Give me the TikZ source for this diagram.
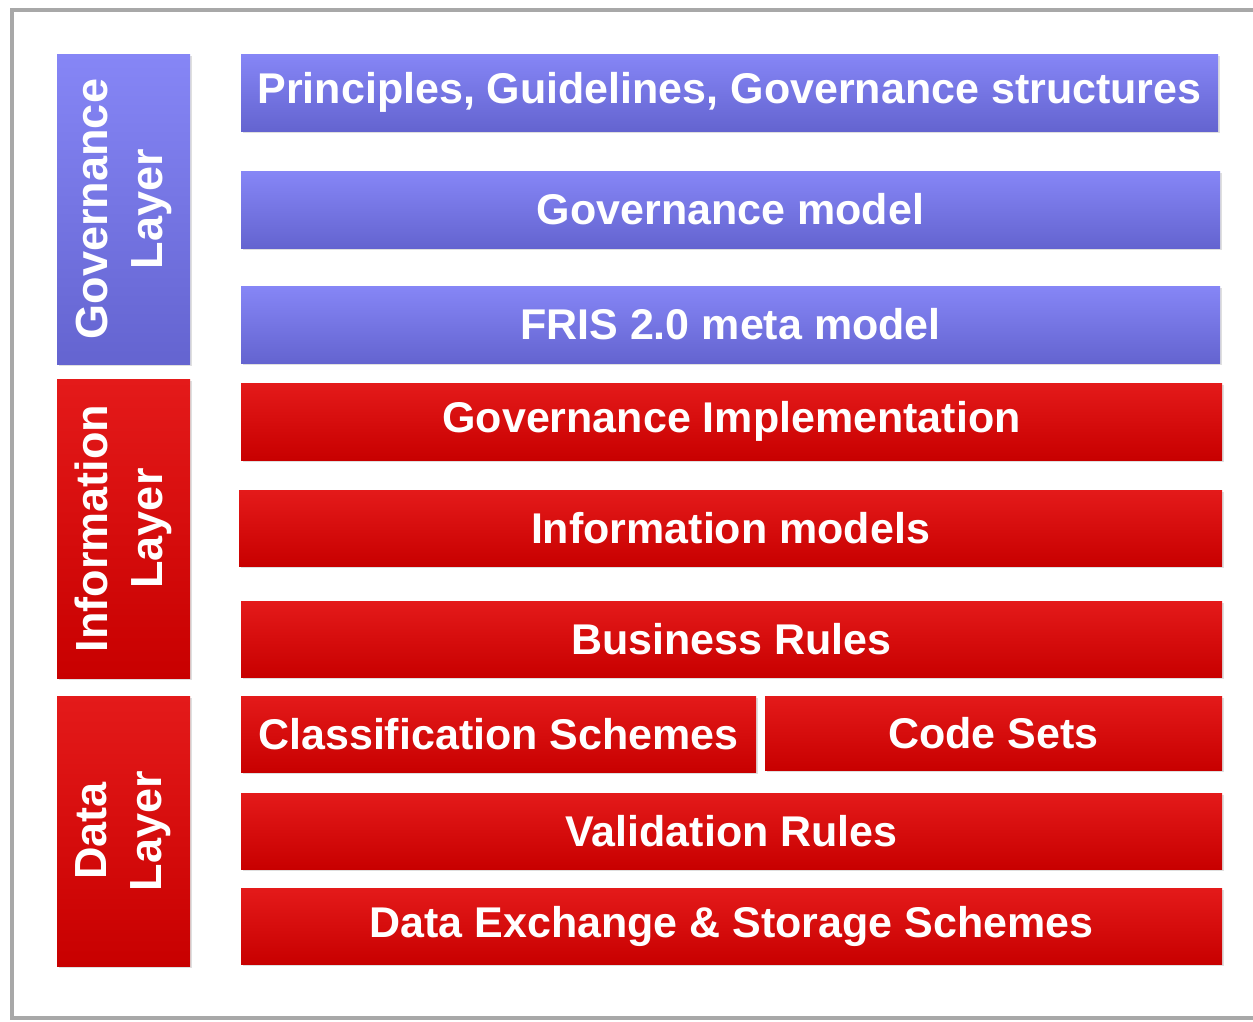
\documentclass[tikz,border=0pt]{standalone}
\usepackage{fontspec}
\setmainfont{Liberation Sans}
\usetikzlibrary{shadows}
\definecolor{govtop}{HTML}{8686F6}
\definecolor{govbot}{HTML}{6464D0}
\definecolor{redtop}{HTML}{E41A1A}
\definecolor{redmid}{HTML}{D00202}
\definecolor{redbot}{HTML}{C80000}
\definecolor{framegray}{HTML}{A8A8A8}
\tikzset{
	layerbox/.style={inner sep=0pt, text=white, font=\bfseries\fontsize{43}{54}\selectfont, align=center,
		drop shadow={opacity=0.25, shadow xshift=2pt, shadow yshift=-2pt}},
	govbox/.style={layerbox, top color=govtop, bottom color=govbot},
	redbox/.style={layerbox, top color=redtop, middle color=redmid, bottom color=redbot},
	sidebox/.style={rotate=90, minimum height=133pt, font=\bfseries\fontsize{45}{55}\selectfont},
}
\begin{document}
\begin{tikzpicture}[x=1pt,y=-1pt]
				\useasboundingbox (0,0) rectangle (1253,1021);
				\fill[white] (0,0) rectangle (1253,1021);
				\draw[framegray, line width=4pt] (1253,10) -- (12,10) -- (12,1018) -- (1253,1018);
				
				% left column
				\node[govbox, sidebox, minimum width=310pt] (govlayer) at (123.5,209) {Governance\\Layer};
				\node[redbox, sidebox, minimum width=299pt] (infolayer) at (123.5,528.5) {Information\\Layer};
				\node[redbox, sidebox, minimum width=270pt] (datalayer) at (123.5,831) {Data\\Layer};
				
				% governance layer
				\node[govbox, minimum width=977pt, minimum height=77pt] (principles) at (729.5,92.5) {Principles, Guidelines, Governance structures};
				\node[govbox, minimum width=979pt, minimum height=77pt] (govmodel) at (730.5,209.5) {Governance model};
				\node[govbox, minimum width=979pt, minimum height=77pt] (metamodel) at (730.5,324.5) {FRIS 2.0 meta model};
				
				% information layer
				\node[redbox, minimum width=981pt, minimum height=77pt] (govimpl) at (731.5,421.5) {Governance Implementation};
				\node[redbox, minimum width=983pt, minimum height=76pt] (infomodels) at (730.5,528) {Information models};
				\node[redbox, minimum width=981pt, minimum height=76pt] (busrules) at (731.5,639) {Business Rules};
				
				% data layer
				\node[redbox, minimum width=515pt, minimum height=76pt] (classif) at (498.5,734) {Classification Schemes};
				\node[redbox, minimum width=457pt, minimum height=74pt] (codesets) at (993.5,733) {Code Sets};
				\node[redbox, minimum width=981pt, minimum height=76pt] (validation) at (731.5,831) {Validation Rules};
				\node[redbox, minimum width=981pt, minimum height=76pt] (exchange) at (731.5,926) {Data Exchange \& Storage Schemes};
			\end{tikzpicture}
\end{document}
